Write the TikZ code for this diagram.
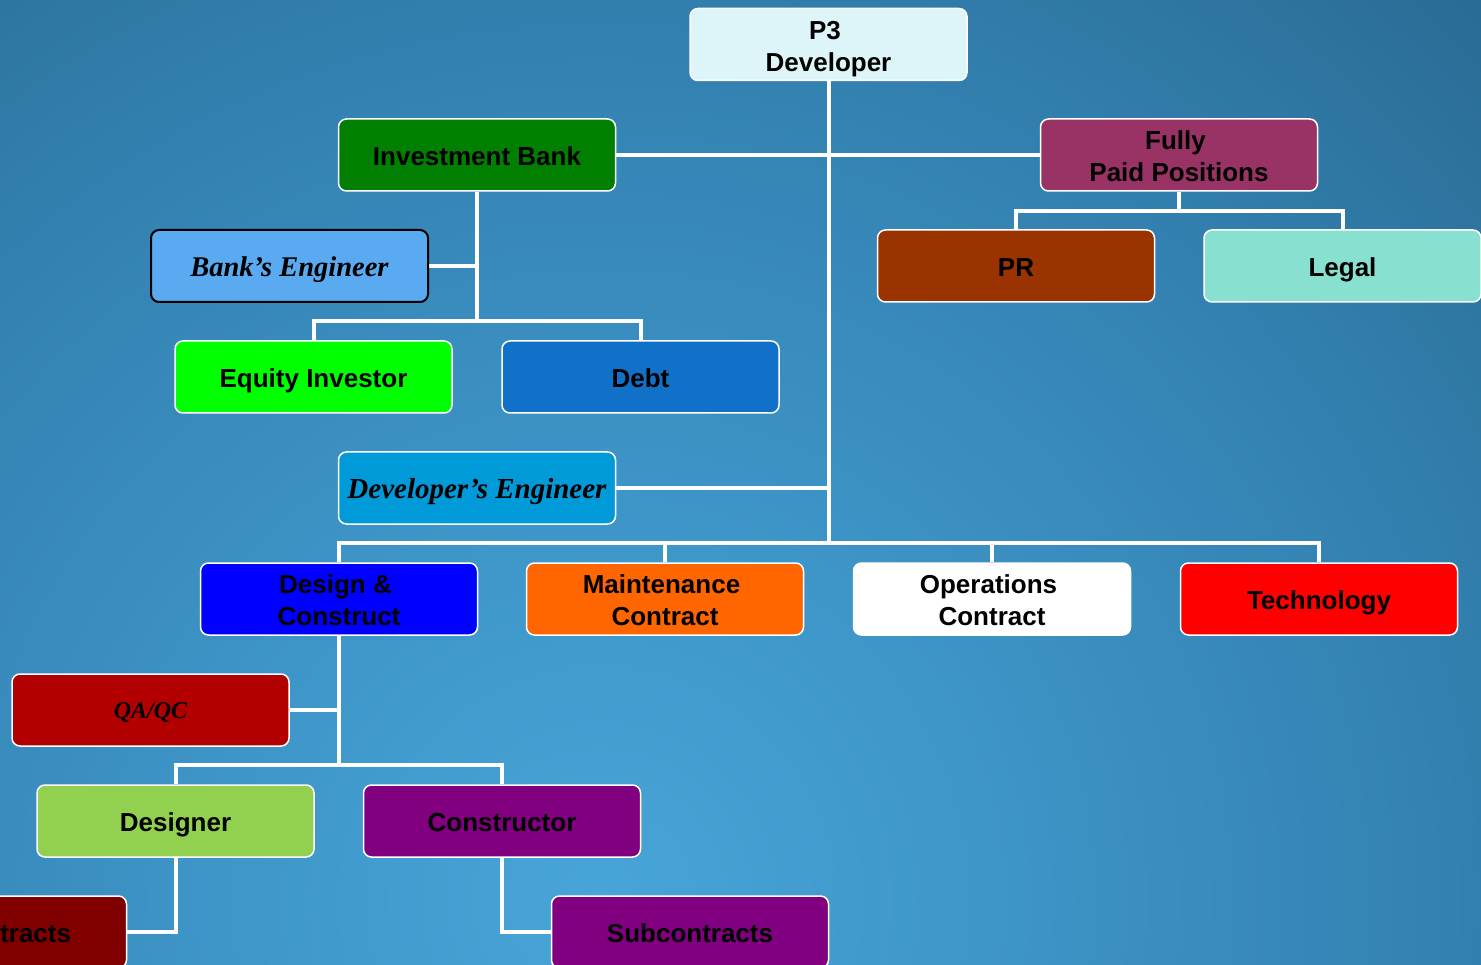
\documentclass[tikz,border=0pt]{standalone}
\usepackage{fontspec}
\setmainfont{Liberation Sans}
\newfontfamily\seriffam{Liberation Serif}
\definecolor{bgA}{HTML}{48A5D8}
\definecolor{bgB}{HTML}{3F97C9}
\definecolor{bgC}{HTML}{3381B1}
\definecolor{bgD}{HTML}{2B6F99}
\definecolor{bgE}{HTML}{1F5E8A}
\definecolor{cP}{HTML}{DDF5F8}
\definecolor{cIB}{HTML}{007F00}
\definecolor{cFP}{HTML}{993366}
\definecolor{cBE}{HTML}{5AAAF2}
\definecolor{cPR}{HTML}{993300}
\definecolor{cLG}{HTML}{88E0D0}
\definecolor{cEQ}{HTML}{00FF00}
\definecolor{cDB}{HTML}{1170C8}
\definecolor{cDE}{HTML}{009AD8}
\definecolor{cDC}{HTML}{0000FF}
\definecolor{cMC}{HTML}{FF6600}
\definecolor{cTE}{HTML}{FF0000}
\definecolor{cQA}{HTML}{B20000}
\definecolor{cDS}{HTML}{92D050}
\definecolor{cCO}{HTML}{800080}
\definecolor{cSL}{HTML}{800000}
\pgfdeclareradialshading{bgshade}{\pgfpoint{0bp}{0bp}}{color(0bp)=(bgA); color(7bp)=(bgB); color(17bp)=(bgC); color(24bp)=(bgD); color(30bp)=(bgE); color(50bp)=(bgE)}
\pgfdeclarelayer{bglayer}
\pgfdeclarelayer{connlayer}
\pgfsetlayers{bglayer,connlayer,main}
\newcommand{\twoline}[2]{\begin{tabular}[t]{@{}c@{}}#1\kern7pt\\#2\end{tabular}}
\tikzset{
  box/.style={draw=white, line width=1.5pt, rounded corners=8pt, minimum width=277pt, minimum height=72pt, inner sep=0pt, text=black, font=\fontsize{26}{32}\selectfont\bfseries, text height=21.5pt, text depth=0pt},
  twobox/.style={box, text height=0pt, text depth=10.6pt},
  itbox/.style={box, font=\fontsize{29}{34}\selectfont\seriffam\bfseries\itshape},
  conn/.style={draw=white, line width=4pt, line join=miter}
}
\begin{document}
\begin{tikzpicture}[x=1pt, y=-1pt]
\useasboundingbox (0,0) rectangle (1481,965);
\clip (0,0) rectangle (1481,965);
\begin{pgfonlayer}{bglayer}
\shade[shading=bgshade] (-650,-350) rectangle (1850,2150);
\end{pgfonlayer}
% coordinates for buses
\coordinate (busD) at (828.5,543);
\coordinate (busI) at (477,321);
\coordinate (busF) at (1179,211);
\coordinate (busC) at (339,765);
% nodes
\node[twobox, fill=cP] (p3) at (828.5,44.5) {\twoline{P3}{Developer}};
\node[box, fill=cIB] (ib) at (477,155) {Investment Bank};
\node[twobox, fill=cFP] (fpp) at (1179,155) {\twoline{Fully}{Paid Positions}};
\node[itbox, fill=cBE, draw=black, line width=2pt, font=\fontsize{28.5}{34}\selectfont\seriffam\bfseries\itshape] (be) at (289.5,266) {Bank’s Engineer};
\node[box, fill=cPR] (pr) at (1016,266) {PR};
\node[box, fill=cLG] (legal) at (1342.5,266) {Legal};
\node[box, fill=cEQ] (eq) at (313.5,377) {Equity Investor};
\node[box, fill=cDB] (debt) at (640.5,377) {Debt};
\node[itbox, fill=cDE] (de) at (477,488) {Developer’s Engineer};
\node[twobox, fill=cDC] (dc) at (339,599) {\twoline{Design \&}{Construct}};
\node[twobox, fill=cMC] (mc) at (665,599) {\twoline{Maintenance}{Contract}};
\node[twobox, fill=white] (oc) at (992,599) {\twoline{Operations}{Contract}};
\node[box, fill=cTE] (tech) at (1319,599) {Technology};
\node[itbox, fill=cQA, font=\fontsize{24}{28}\selectfont\seriffam\bfseries\itshape, text height=16pt] (qa) at (150.5,710) {QA/QC};
\node[box, fill=cDS] (des) at (175.5,821) {Designer};
\node[box, fill=cCO] (con) at (502,821) {Constructor};
\node[box, fill=cSL] (subL) at (-12,932) {Subcontracts};
\node[box, fill=cCO] (subR) at (690,932) {Subcontracts};
% connectors
\begin{pgfonlayer}{connlayer}
\draw[conn] (p3.south) -- (busD);
\draw[conn] (ib.east) -- (fpp.west);
\draw[conn] (de.east) -- (de.east -| p3.south);
\draw[conn] (dc.north) |- (busD);
\draw[conn] (mc.north) |- (busD);
\draw[conn] (oc.north) |- (busD);
\draw[conn] (tech.north) |- (busD);
\draw[conn] (ib.south) -- (busI);
\draw[conn] (be.east) -- (be.east -| ib.south);
\draw[conn] (eq.north) |- (busI);
\draw[conn] (debt.north) |- (busI);
\draw[conn] (fpp.south) -- (busF);
\draw[conn] (pr.north) |- (busF);
\draw[conn] (legal.north) |- (busF);
\draw[conn] (dc.south) -- (busC);
\draw[conn] (qa.east) -- (qa.east -| dc.south);
\draw[conn] (des.north) |- (busC);
\draw[conn] (con.north) |- (busC);
\draw[conn] (des.south) |- (subL.east);
\draw[conn] (con.south) |- (subR.west);
\end{pgfonlayer}
\end{tikzpicture}
\end{document}
